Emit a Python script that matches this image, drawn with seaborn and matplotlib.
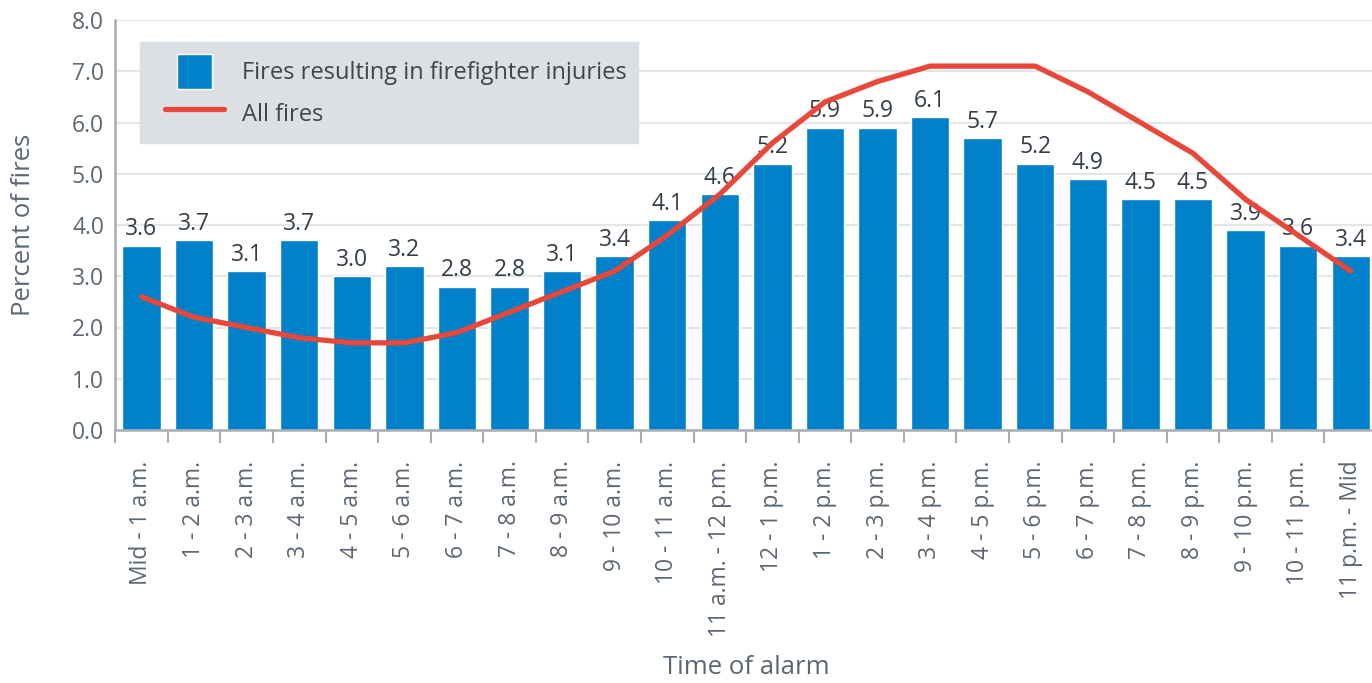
import numpy as np
import pandas as pd
import seaborn as sns
import matplotlib.pyplot as plt
import matplotlib.patches as mpatches
from matplotlib.legend_handler import HandlerPatch, HandlerLine2D

# data
hours = ["Mid - 1 a.m.", "1 - 2 a.m.", "2 - 3 a.m.", "3 - 4 a.m.", "4 - 5 a.m.",
         "5 - 6 a.m.", "6 - 7 a.m.", "7 - 8 a.m.", "8 - 9 a.m.", "9 - 10 a.m.",
         "10 - 11 a.m.", "11 a.m. - 12 p.m.", "12 - 1 p.m.", "1 - 2 p.m.",
         "2 - 3 p.m.", "3 - 4 p.m.", "4 - 5 p.m.", "5 - 6 p.m.", "6 - 7 p.m.",
         "7 - 8 p.m.", "8 - 9 p.m.", "9 - 10 p.m.", "10 - 11 p.m.", "11 p.m. - Mid"]
injury_fires = [3.6, 3.7, 3.1, 3.7, 3.0, 3.2, 2.8, 2.8, 3.1, 3.4, 4.1, 4.6,
                5.2, 5.9, 5.9, 6.1, 5.7, 5.2, 4.9, 4.5, 4.5, 3.9, 3.6, 3.4]
all_fires = [2.6, 2.2, 2.0, 1.8, 1.7, 1.7, 1.9, 2.3, 2.7, 3.1, 3.8, 4.6,
             5.6, 6.4, 6.8, 7.1, 7.1, 7.1, 6.6, 6.0, 5.4, 4.5, 3.8, 3.1]

df = pd.DataFrame({"hour": hours, "injury": injury_fires, "all": all_fires})
df["pos"] = range(len(df))

bar_color = "#0081C9"
line_color = "#E8473A"
spine_color = "#A9ADB1"
tick_color = "#5C6772"

sns.set_theme(style="white")
plt.rcParams["font.family"] = ["Open Sans", "DejaVu Sans"]

fig = plt.figure(figsize=(13.72, 6.83), dpi=100)
ax = fig.add_axes([115.2 / 1372, 1 - 430 / 683, (1377 - 115.2) / 1372, 410 / 683])

sns.barplot(data=df, x="hour", y="injury", color=bar_color, saturation=1,
            width=0.73, ax=ax, zorder=2, errorbar=None)
sns.lineplot(data=df, x="pos", y="all", color=line_color, linewidth=3.8,
             ax=ax, zorder=4, label="All fires")

ax.bar_label(ax.containers[0], fmt="%.1f", padding=3, fontsize=16.5,
             color="#333D47")

ax.set_xlim(-0.5, 23.5)
ax.set_ylim(0, 8)
ax.set_yticks(np.arange(0, 8.1, 1))
ax.set_yticklabels([f"{v:.1f}" for v in np.arange(0, 8.1, 1)])
ax.set_xticks(range(len(hours)))
ax.set_xticklabels(hours, rotation=90)
ax.set_xticks(np.arange(-0.5, 24, 1), minor=True)

ax.tick_params(axis="x", which="major", length=0, pad=22, labelsize=16.5,
               labelcolor=tick_color)
ax.tick_params(axis="x", which="minor", length=9, width=1.5, color=spine_color,
               bottom=True)
ax.tick_params(axis="y", length=0, pad=8, labelsize=16.5, labelcolor=tick_color)

ax.yaxis.grid(True, color="#E3E6E9", linewidth=1.5)
ax.xaxis.grid(False)
ax.set_axisbelow(True)

sns.despine(ax=ax)
for side in ["left", "bottom"]:
    ax.spines[side].set_color(spine_color)
    ax.spines[side].set_linewidth(1.8)

ax.set_xlabel("Time of alarm", fontsize=18.5, color=tick_color, labelpad=13)
ax.set_ylabel("Percent of fires", fontsize=18.5, color=tick_color, labelpad=26)


def square_patch(legend, orig_handle, xdescent, ydescent, width, height, fontsize):
    s = height
    return mpatches.Rectangle((width / 2 - s / 2 - xdescent, -ydescent), s, s)


class ShortLine(HandlerLine2D):
    def get_xdata(self, legend, xdescent, ydescent, width, height, fontsize):
        c = width / 2 - xdescent
        half = 1.25 * fontsize
        return [c - half, c + half], [c - half, c + half]


line_handle = ax.get_legend_handles_labels()[0][-1]
handles = [mpatches.Patch(facecolor=bar_color), line_handle]
labels = ["Fires resulting in firefighter injuries", "All fires"]
leg = ax.legend(handles, labels, loc="upper left", bbox_to_anchor=(0.0197, 0.946),
                borderaxespad=0, frameon=True, fancybox=False,
                facecolor="#DDE0E3", edgecolor="#DDE0E3", framealpha=1,
                fontsize=17, handlelength=3.6, handleheight=1.9,
                handletextpad=0.2, labelspacing=0.32, borderpad=0.5,
                labelcolor="#3C4650",
                handler_map={mpatches.Patch: HandlerPatch(patch_func=square_patch),
                             type(line_handle): ShortLine()})

fig.savefig("out.png", dpi=100)
